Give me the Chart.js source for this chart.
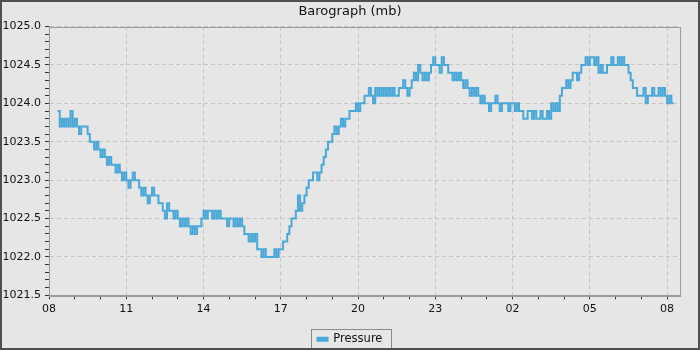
<!DOCTYPE html>
<html>
<head>
<meta charset="utf-8">
<script src="https://cdn.jsdelivr.net/npm/chart.js@4.4.0/dist/chart.umd.min.js"></script>
<style>
  html, body { margin: 0; padding: 0; background: #e6e6e6; }
  canvas { display: block; }
</style>
</head>
<body>
<canvas id="baroChart" width="700" height="350"></canvas>
<script>
// barometer readings, one every 5 minutes, starting 08:20
const startMinute = 20;      // minutes after 08:00
const stepMinutes = 5;
const pressure = [
  1023.9, 1023.7, 1023.8, 1023.7, 1023.8, 1023.7, 1023.9, 1023.7, 1023.8, 1023.7, 1023.6, 1023.7,
  1023.7, 1023.7, 1023.6, 1023.5, 1023.5, 1023.4, 1023.5, 1023.4, 1023.3, 1023.4, 1023.3, 1023.2,
  1023.3, 1023.2, 1023.2, 1023.1, 1023.2, 1023.1, 1023.0, 1023.1, 1023.0, 1022.9, 1023.0, 1023.1,
  1023.0, 1023.0, 1022.9, 1022.8, 1022.9, 1022.8, 1022.7, 1022.8, 1022.9, 1022.8, 1022.8, 1022.7,
  1022.7, 1022.6, 1022.5, 1022.7, 1022.6, 1022.6, 1022.5, 1022.6, 1022.5, 1022.4, 1022.5, 1022.4,
  1022.5, 1022.4, 1022.3, 1022.4, 1022.3, 1022.4, 1022.4, 1022.5, 1022.6, 1022.5, 1022.6, 1022.6,
  1022.5, 1022.6, 1022.5, 1022.6, 1022.5, 1022.5, 1022.5, 1022.4, 1022.5, 1022.5, 1022.4, 1022.5,
  1022.4, 1022.5, 1022.4, 1022.3, 1022.3, 1022.2, 1022.3, 1022.2, 1022.3, 1022.1, 1022.1, 1022.0,
  1022.1, 1022.0, 1022.0, 1022.0, 1022.0, 1022.1, 1022.0, 1022.1, 1022.1, 1022.2, 1022.2, 1022.3,
  1022.4, 1022.5, 1022.5, 1022.6, 1022.8, 1022.6, 1022.7, 1022.8, 1022.9, 1023.0, 1023.0, 1023.1,
  1023.1, 1023.0, 1023.1, 1023.2, 1023.3, 1023.4, 1023.5, 1023.5, 1023.6, 1023.7, 1023.6, 1023.7,
  1023.8, 1023.7, 1023.8, 1023.8, 1023.9, 1023.9, 1023.9, 1024.0, 1023.9, 1024.0, 1024.0, 1024.1,
  1024.1, 1024.2, 1024.1, 1024.0, 1024.2, 1024.1, 1024.2, 1024.1, 1024.2, 1024.1, 1024.2, 1024.1,
  1024.2, 1024.1, 1024.1, 1024.2, 1024.2, 1024.3, 1024.2, 1024.1, 1024.2, 1024.3, 1024.4, 1024.3,
  1024.5, 1024.4, 1024.3, 1024.4, 1024.3, 1024.4, 1024.5, 1024.6, 1024.5, 1024.5, 1024.4, 1024.6,
  1024.5, 1024.5, 1024.4, 1024.4, 1024.3, 1024.4, 1024.3, 1024.4, 1024.3, 1024.2, 1024.3, 1024.2,
  1024.1, 1024.2, 1024.1, 1024.2, 1024.1, 1024.0, 1024.1, 1024.0, 1024.0, 1023.9, 1024.0, 1024.0,
  1024.1, 1024.0, 1023.9, 1024.0, 1024.0, 1024.0, 1023.9, 1024.0, 1024.0, 1023.9, 1024.0, 1023.9,
  1023.9, 1023.8, 1023.8, 1023.9, 1023.9, 1023.8, 1023.9, 1023.8, 1023.8, 1023.9, 1023.8, 1023.8,
  1023.9, 1023.8, 1024.0, 1023.9, 1024.0, 1023.9, 1024.1, 1024.2, 1024.2, 1024.3, 1024.2, 1024.3,
  1024.4, 1024.4, 1024.3, 1024.4, 1024.5, 1024.5, 1024.6, 1024.5, 1024.6, 1024.6, 1024.5, 1024.6,
  1024.4, 1024.5, 1024.4, 1024.4, 1024.5, 1024.5, 1024.6, 1024.5, 1024.5, 1024.6, 1024.5, 1024.6,
  1024.5, 1024.5, 1024.4, 1024.3, 1024.2, 1024.2, 1024.1, 1024.1, 1024.1, 1024.2, 1024.0, 1024.1,
  1024.1, 1024.2, 1024.1, 1024.1, 1024.2, 1024.1, 1024.2, 1024.1, 1024.0, 1024.1, 1024.0, 1024.0
];

// axis: hours after 08:00, labelled every 3 hours
const hourLabels = ['08', '11', '14', '17', '20', '23', '02', '05', '08'];
const xMax = 24.5;
const yMin = 1021.5;
const yMax = 1025.0;

const lineColor = '#4aa8d8';
const gridColor = '#c4c4c4';
const fontFamily = '"DejaVu Sans", sans-serif';

// background, outer frame, plot outline and legend box
const framePlugin = {
    id: 'frame',
    beforeDraw(chart) {
        const ctx = chart.ctx;
        ctx.save();
        ctx.fillStyle = '#e6e6e6';
        ctx.fillRect(0, 0, chart.width, chart.height);
        ctx.restore();
    },
    afterDraw(chart) {
        const ctx = chart.ctx;
        const a = chart.chartArea;
        ctx.save();
        ctx.strokeStyle = '#9a9a9a';
        ctx.lineWidth = 1;
        ctx.strokeRect(Math.round(a.left) + 0.5, Math.round(a.top) + 0.5,
                       Math.round(a.right - a.left), Math.round(a.bottom - a.top));

        const hb = chart.legend.legendHitBoxes[0];
        if (hb) {
            ctx.strokeStyle = '#8a8a8a';
            const l = Math.round(hb.left) - 6.5;
            const t = Math.round(hb.top + hb.height / 2) - 9.5;
            ctx.strokeRect(l, t, Math.round(hb.width) + 15, 20);
        }

        ctx.strokeStyle = '#4f4f4f';
        ctx.lineWidth = 2;
        ctx.strokeRect(1, 1, chart.width - 2, chart.height - 2);
        ctx.restore();
    }
};

const ctx = document.getElementById('baroChart').getContext('2d');
new Chart(ctx, {
    type: 'line',
    data: {
        datasets: [{
            label: 'Pressure',
            data: pressure.map((p, i) => ({ x: (startMinute + i * stepMinutes) / 60, y: p })),
            borderColor: lineColor,
            backgroundColor: lineColor,
            borderWidth: 2,
            pointRadius: 0,
            stepped: true,
            fill: false
        }]
    },
    options: {
        responsive: false,
        animation: false,
        devicePixelRatio: 1,
        layout: { padding: { left: 3, right: 3, top: 0, bottom: -5 } },
        plugins: {
            title: {
                display: true,
                text: 'Barograph (mb)',
                color: '#111',
                font: { family: fontFamily, size: 13, weight: 'normal' },
                padding: { top: 4, bottom: 7 }
            },
            legend: {
                position: 'bottom',
                labels: {
                    color: '#111',
                    font: { family: fontFamily, size: 11.5 },
                    boxWidth: 10,
                    boxHeight: 3,
                    padding: 10
                }
            },
            tooltip: { enabled: false }
        },
        scales: {
            x: {
                type: 'linear',
                min: 0,
                max: xMax,
                afterBuildTicks: scale => {
                    const ticks = [];
                    for (let h = 0; h <= 24; h++) ticks.push({ value: h });
                    scale.ticks = ticks;
                },
                afterFit: scale => { scale.height = scale.height + 5; },
                ticks: {
                    autoSkip: false,
                    maxRotation: 0,
                    padding: 3,
                    color: '#111',
                    font: { family: fontFamily, size: 11 },
                    callback: value => (value % 3 === 0 ? hourLabels[value / 3] : '')
                },
                grid: {
                    color: c => (c.tick && c.tick.value % 3 === 0 ? gridColor : 'rgba(0,0,0,0)'),
                    tickColor: '#333',
                    tickLength: 4
                },
                border: { color: '#9a9a9a', dash: [4, 3] }
            },
            y: {
                min: yMin,
                max: yMax,
                afterBuildTicks: scale => {
                    const ticks = [];
                    for (let k = 0; k <= 35; k++) ticks.push({ value: +(yMin + k * 0.1).toFixed(1) });
                    scale.ticks = ticks;
                },
                afterFit: scale => { scale.width = 46; },
                ticks: {
                    autoSkip: false,
                    padding: 4,
                    color: '#111',
                    font: { family: fontFamily, size: 11 },
                    callback: value => (Math.round(value * 10) % 5 === 0 ? value.toFixed(1) : '')
                },
                grid: {
                    color: c => (c.tick && Math.round(c.tick.value * 10) % 5 === 0 ? gridColor : 'rgba(0,0,0,0)'),
                    tickColor: '#333',
                    tickLength: 4
                },
                border: { color: '#9a9a9a', dash: [4, 3] }
            },
            // empty right-hand strip so the plot stops short of the frame
            gap: {
                type: 'linear',
                position: 'right',
                grid: { display: false },
                ticks: { display: false },
                border: { display: false },
                afterFit: scale => { scale.width = 17; }
            }
        }
    },
    plugins: [framePlugin]
});
</script>
</body>
</html>
